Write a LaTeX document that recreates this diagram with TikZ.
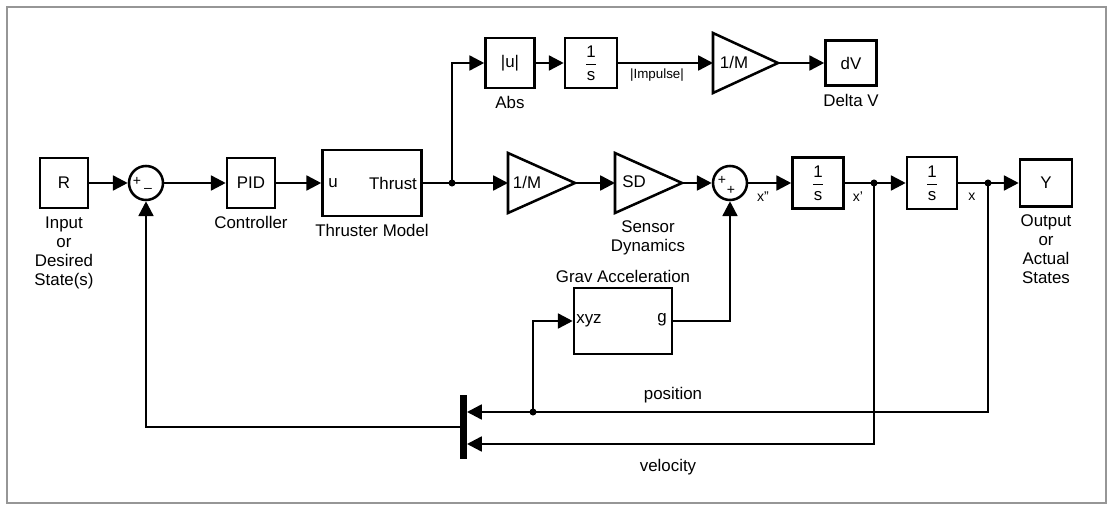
\documentclass[tikz,border=0pt]{standalone}
\usepackage{amsmath}
\usepackage{fontspec}
\setmainfont{Liberation Sans}
\usetikzlibrary{arrows.meta,positioning}
\definecolor{slInk}{RGB}{0,0,0}
\definecolor{slFrame}{RGB}{150,150,150}

\newcommand{\intfrac}{\ensuremath{\genfrac{}{}{1pt}{0}{\text{1}}{\text{s}}}}

\begin{document}
\begin{tikzpicture}[x=0.025cm,y=-0.025cm,
  font=\fontsize{12}{13.5}\selectfont,
  node distance=5pt,
  blk/.style={draw=slInk,line width=1.8pt,minimum width=1.2cm,minimum height=1.25cm,inner sep=0pt},
  sumb/.style={draw=slInk,circle,line width=1.8pt,minimum size=0.85cm,inner sep=0pt},
  tag/.style={align=center,inner sep=0pt},
  sig/.style={font=\fontsize{10}{10}\selectfont,inner sep=0pt},
  ln/.style={line width=1.8pt,draw=slInk},
  arr/.style={-{Triangle[length=10.5pt,width=10.5pt]},line width=1.8pt,draw=slInk},
  jdot/.style={circle,fill=slInk,inner sep=0pt,minimum size=5pt}]
\useasboundingbox (0,0) rectangle (1113,510);
\draw[slFrame,line width=0.8pt] (7,7) rectangle (1106,503);

% forward path
\node[blk] (R) at (64,183) {R};
\node[tag,below=of R] (Rlab) {Input\\or\\Desired\\State(s)};
\node[sumb] (S1) at (146,183) {};
\node[sig] (S1p) at (137,181) {+};
\node[sig] (S1m) at (148,190) {--};
\node[blk] (PID) at (251,183) {PID};
\node[tag,below=of PID] (PIDlab) {Controller};
\node[blk,minimum width=2.475cm,minimum height=1.65cm] (TM) at (372,183) {};
\node[inner sep=0pt] (TMu) at (333,183) {u};
\node[inner sep=0pt] (TMt) at (393,183) {Thrust};
\node[tag,below=of TM] (TMlab) {Thruster Model};
\node[jdot] (J1) at (452,183) {};

% delta-V branch
\node[blk,minimum width=1.225cm] (Abs) at (510,63) {|u|};
\node[tag,below=of Abs] (Abslab) {Abs};
\node[blk,minimum width=1.3cm] (I1) at (591,63) {\intfrac};
\node[sig,font=\fontsize{9.5}{9.5}\selectfont] (Imp) at (657,75) {|Impulse|};
\draw[ln] (713,33) -- (778,63) -- (713,93) -- cycle;
\coordinate (G1in) at (713,63);
\coordinate (G1out) at (778,63);
\node[inner sep=0pt] (G1t) at (734,62) {1/M};
\node[blk,minimum width=1.275cm,minimum height=1.125cm] (dV) at (851,63) {dV};
\node[tag,below=of dV] (dVlab) {Delta V};

% plant
\draw[ln] (508,153) -- (575,183) -- (508,213) -- cycle;
\coordinate (G2in) at (508,183);
\coordinate (G2out) at (575,183);
\node[inner sep=0pt] (G2t) at (527,182) {1/M};
\draw[ln] (615,153) -- (682,183) -- (615,213) -- cycle;
\coordinate (G3in) at (615,183);
\coordinate (G3out) at (682,183);
\node[inner sep=0pt] (G3t) at (634,182) {SD};
\node[tag] (G3lab) at (648,238) {Sensor\\Dynamics};
\node[sumb] (S2) at (730,183) {};
\node[sig] (S2a) at (722,180) {+};
\node[sig] (S2b) at (731,190) {+};
\node[blk,minimum width=1.275cm,minimum height=1.275cm] (I2) at (818,183) {\intfrac};
\node[jdot] (J2) at (874,183) {};
\node[blk,minimum width=1.25cm,minimum height=1.3cm] (I3) at (932,183) {\intfrac};
\node[jdot] (J3) at (988,183) {};
\node[blk,minimum width=1.3cm,minimum height=1.175cm] (Y) at (1046,183) {Y};
\node[tag,below=of Y] (Ylab) {Output\\or\\Actual\\States};
\node[sig] (xdd) at (763,197) {x"};
\node[sig] (xd) at (858,197) {x'};
\node[sig] (xx) at (972,197) {x};

% gravity
\node[blk,minimum width=2.45cm,minimum height=1.65cm] (GA) at (623,321) {};
\node[tag,above=3pt of GA] (GAlab) {Grav Acceleration};
\node[inner sep=0pt] (GAx) at (589,321) {xyz};
\node[inner sep=0pt] (GAg) at (662,320) {g};

% feedback
\node[fill=slInk,minimum width=0.175cm,minimum height=1.575cm,inner sep=0pt] (Mux) at (463.5,427) {};
\coordinate (MuxP) at (467,412);
\coordinate (MuxV) at (467,444);
\node[jdot] (J4) at (533,412) {};
\node[inner sep=0pt] (Pos) at (673,395) {position};
\node[inner sep=0pt] (Vel) at (668,467) {velocity};

\draw[arr] (R) -- (S1);
\draw[arr] (S1) -- (PID);
\draw[arr] (PID) -- (TM);
\draw[ln] (TM) -- (J1.center);
\draw[arr] (J1.center) |- (Abs);
\draw[arr] (Abs) -- (I1);
\draw[arr] (I1) -- (G1in);
\draw[arr] (G1out) -- (dV);
\draw[arr] (J1.center) -- (G2in);
\draw[arr] (G2out) -- (G3in);
\draw[arr] (G3out) -- (S2);
\draw[arr] (S2) -- (I2);
\draw[arr] (I2) -- (I3);
\draw[arr] (I3) -- (Y);
\draw[arr] (GA.east) -| (S2);
\draw[arr] (J3.center) |- (MuxP);
\draw[arr] (J2.center) |- (MuxV);
\draw[arr] (J4.center) |- (GA.west);
\draw[arr] (Mux.west) -| (S1);
\end{tikzpicture}
\end{document}
